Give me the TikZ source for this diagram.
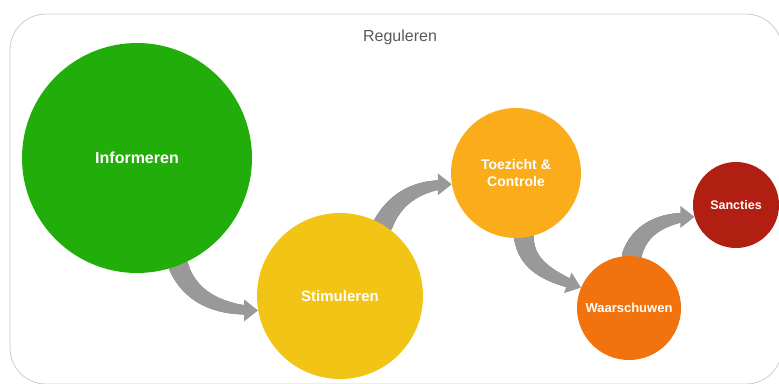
\documentclass[tikz,border=0pt]{standalone}
\usepackage{fontspec}
\setmainfont{Liberation Sans}
\usepackage{tikz}
\usetikzlibrary{arrows.meta,backgrounds,decorations.markings}
\definecolor{infogreen}{HTML}{22AE0A}
\definecolor{stimyellow}{HTML}{F1C416}
\definecolor{toezorange}{HTML}{FAAC1B}
\definecolor{warnorange}{HTML}{F2720D}
\definecolor{sancred}{HTML}{B11E12}
\definecolor{flowgray}{HTML}{999999}
\tikzset{
  stage/.style={circle, draw=none, inner sep=0pt, text=white, align=center, font=\bfseries},
  flow/.style={-{Triangle[length=14pt, width=21pt]}, draw=flowgray, line width=8pt},
  flowtaper/.style={decorate, decoration={markings,
      mark=between positions 0 and 0.9 step 1pt with {
        \pgfmathsetmacro\taperr{10-6*\pgfkeysvalueof{/pgf/decoration/mark info/distance from start}/\pgfdecoratedpathlength}
        \fill[flowgray] (0,0) circle (\taperr pt);}}},
  frame/.style={draw=black!20, line width=0.8pt, rounded corners=36pt},
}

\begin{document}
\begin{tikzpicture}[x=1pt, y=-1pt]
  \useasboundingbox (0,0) rectangle (779,383);
  \draw[frame] (10,14) rectangle (782,384);
  \node[text=black!65, font=\fontsize{16}{18}\selectfont] (title) at (400,37) {Reguleren};

  \node[stage, fill=infogreen, minimum size=230pt, font=\bfseries\fontsize{16}{18}\selectfont] (informeren) at (137,158) {Informeren};
  \node[stage, fill=stimyellow, minimum size=166pt, font=\bfseries\fontsize{15}{17}\selectfont] (stimuleren) at (340,296) {Stimuleren};
  \node[stage, fill=toezorange, minimum size=130pt, font=\bfseries\fontsize{14}{17}\selectfont] (toezicht) at (516,173) {Toezicht \&\\Controle};
  \node[stage, fill=warnorange, minimum size=104pt, font=\bfseries\fontsize{13}{15}\selectfont] (waarschuwen) at (629,308) {Waarschuwen};
  \node[stage, fill=sancred, minimum size=86pt, font=\bfseries\fontsize{12.5}{15}\selectfont] (sancties) at (736,205) {Sancties};

  % gray arrows, tapered, behind the stages
  \begin{pgfonlayer}{background}
    \foreach \a/\oa/\ia/\b in {informeren.-69/-70/180/stimuleren.190,
                               stimuleren.59/65/180/toezicht.190,
                               toezicht.-83/-85/160/waarschuwen.157,
                               waarschuwen.87/75/180/sancties.196} {
      \path[flowtaper] (\a) to[out=\oa, in=\ia] (\b);
      \draw[flow] (\a) to[out=\oa, in=\ia] (\b);
    }
  \end{pgfonlayer}

\end{tikzpicture}
\end{document}
